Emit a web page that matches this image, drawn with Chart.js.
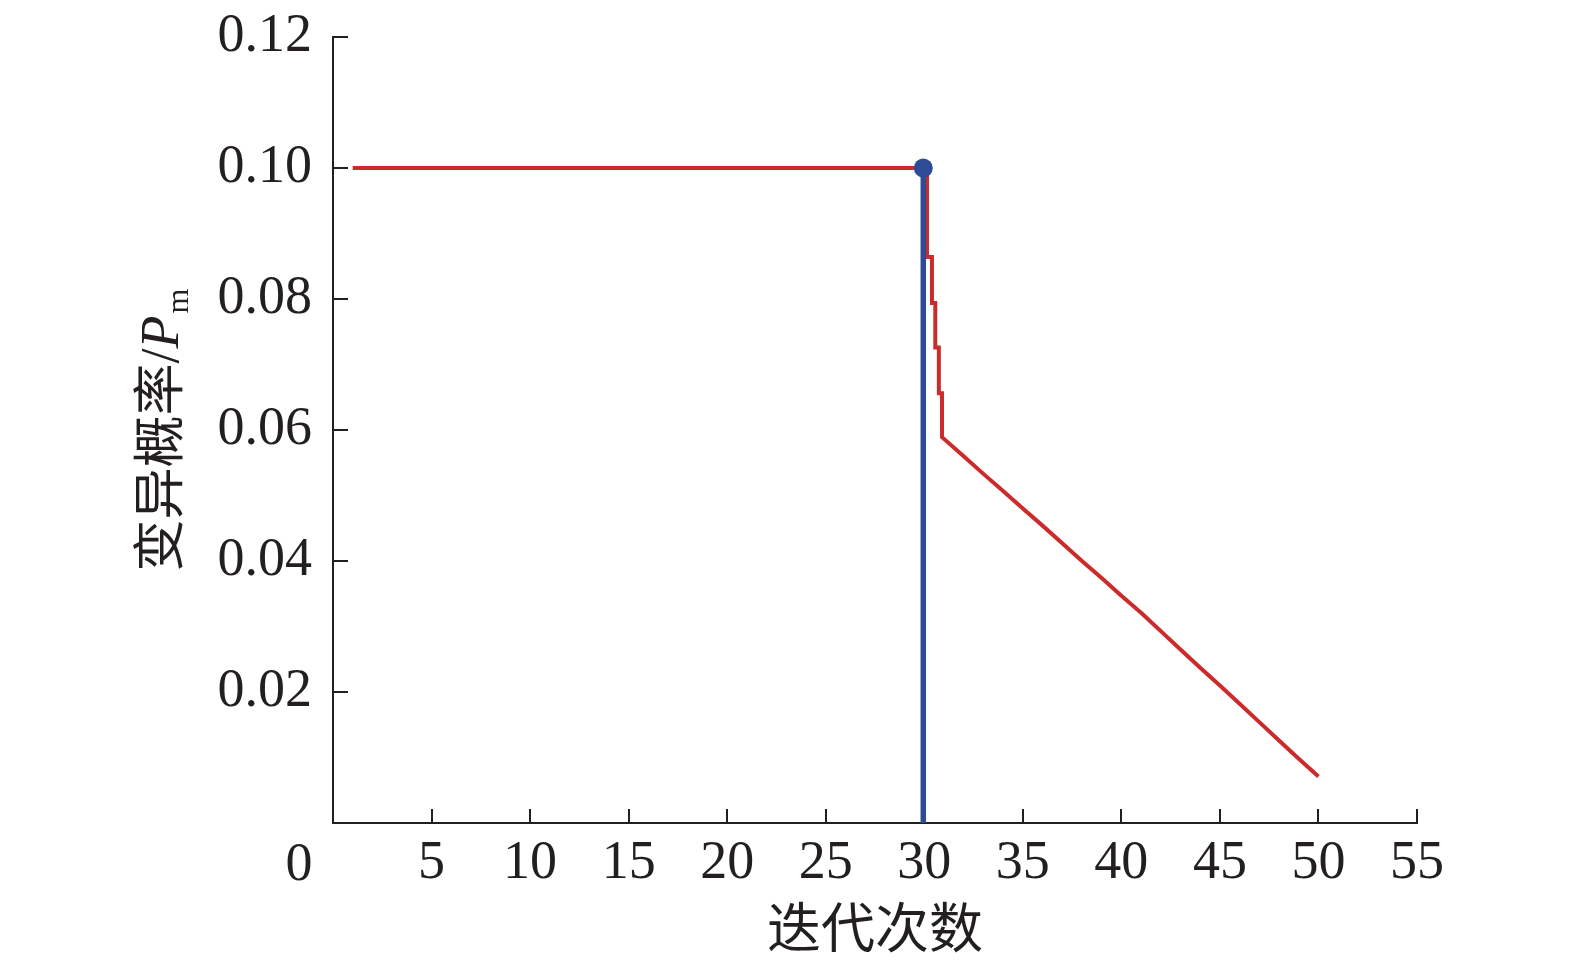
<!DOCTYPE html>
<html>
<head>
<meta charset="utf-8">
<script src="https://cdn.jsdelivr.net/npm/chart.js@4/dist/chart.umd.min.js"></script>
<style>
html,body{margin:0;padding:0;background:#fff;}
#wrap{width:1575px;height:968px;position:relative;}
</style>
</head>
<body>
<div id="wrap"><canvas id="c" width="1575" height="968"></canvas></div>
<script>
// ---- data ----
const xTickVals = [0, 5, 10, 15, 20, 25, 30, 35, 40, 45, 50, 55];
const xTickLabels = ['', '5', '10', '15', '20', '25', '30', '35', '40', '45', '50', '55'];
const yTickVals = [0, 0.02, 0.04, 0.06, 0.08, 0.10, 0.12];
const yTickLabels = ['', '0.02', '0.04', '0.06', '0.08', '0.10', '0.12'];
const cornerLabel = '0';

// red: adaptive mutation probability
const redX = [1, 30, 30.14, 30.14, 30.39, 30.39, 30.56, 30.56, 30.74, 30.74, 30.9, 30.9,
  32, 33, 34, 35, 36, 37, 38, 39, 40, 41, 41.22, 42, 43, 44, 45, 46, 47, 48, 49, 50];
const redY = [0.1, 0.1, 0.1, 0.0864, 0.0864, 0.0794, 0.0794, 0.0726, 0.0726, 0.0656, 0.0656, 0.0589,
  0.0560, 0.0533, 0.0507, 0.0480, 0.0454, 0.0427, 0.0400, 0.0374, 0.0347, 0.0321, 0.0315, 0.0293,
  0.0265, 0.0237, 0.0210, 0.0182, 0.0154, 0.0126, 0.0098, 0.0071];

// blue: vertical marker line at the switch point
const blueX = [29.95, 29.95];
const blueY = [0, 0.1];

const xTitle = '迭代次数';
const yTitleMain = '变异概率/';
const yTitleVar = 'P';
const yTitleSub = 'm';

// ---- styles ----
const INK = '#231f20';
const SERIF = '"Liberation Serif", "Times New Roman", serif';
const CJK = '"Noto Sans CJK SC", sans-serif';

const toPts = (xs, ys) => xs.map((x, i) => ({x: x, y: ys[i]}));
const noPad = s => { s.paddingTop = 0; s.paddingBottom = 0; s.paddingLeft = 0; s.paddingRight = 0; };

const decor = {
  id: 'decor',
  beforeDatasetsDraw(chart) {
    const {ctx, scales: {x, y}, chartArea: a} = chart;
    ctx.save();
    ctx.strokeStyle = INK;
    ctx.lineWidth = 2;
    xTickVals.forEach(v => {
      if (v === 0) return;
      const px = Math.round(x.getPixelForValue(v));
      ctx.beginPath(); ctx.moveTo(px, a.bottom); ctx.lineTo(px, a.bottom - 14); ctx.stroke();
    });
    yTickVals.forEach(v => {
      if (v === 0) return;
      const py = Math.round(y.getPixelForValue(v));
      ctx.beginPath(); ctx.moveTo(a.left, py); ctx.lineTo(a.left + 15, py); ctx.stroke();
    });
    ctx.restore();
  },
  afterDraw(chart) {
    const {ctx, chartArea: a} = chart;
    ctx.save();
    ctx.fillStyle = INK;
    // corner zero label
    ctx.font = '54px ' + SERIF;
    ctx.textAlign = 'center';
    ctx.textBaseline = 'alphabetic';
    ctx.fillText(cornerLabel, a.left - 34, 880);
    // y title (rotated)
    const fMain = '52px ' + CJK;
    const fSlash = '54px ' + SERIF;
    const fVar = 'italic 54px ' + SERIF;
    const fSub = '32px ' + SERIF;
    const mainTxt = yTitleMain.slice(0, -1);
    ctx.font = fMain; const w1 = ctx.measureText(mainTxt).width;
    ctx.font = fSlash; const w2 = ctx.measureText('/').width;
    ctx.font = fVar; const w3 = ctx.measureText(yTitleVar).width;
    ctx.font = fSub; const w4 = ctx.measureText(yTitleSub).width;
    const total = w1 + w2 + w3 + w4 + 2;
    ctx.translate(178, 430);
    ctx.rotate(-Math.PI / 2);
    ctx.textAlign = 'left';
    let cx = -total / 2;
    ctx.font = fMain; ctx.fillText(mainTxt, cx, 0); cx += w1;
    ctx.font = fSlash; ctx.fillText('/', cx, 0); cx += w2;
    ctx.font = fVar; ctx.fillText(yTitleVar, cx, 0); cx += w3 + 2;
    ctx.font = fSub; ctx.fillText(yTitleSub, cx, 10);
    ctx.restore();
  }
};

new Chart(document.getElementById('c'), {
  type: 'scatter',
  data: {
    datasets: [
      {
        label: 'switch',
        data: toPts(blueX, blueY),
        showLine: true,
        borderColor: '#2e4b95',
        backgroundColor: '#2e4b95',
        borderWidth: 5.5,
        pointRadius: [0, 9.5],
        pointHoverRadius: [0, 9.5],
        pointBorderWidth: 0,
        pointBackgroundColor: '#2e4b95',
        order: 0
      },
      {
        label: 'Pm',
        data: toPts(redX, redY),
        showLine: true,
        borderColor: '#cc2b2b',
        backgroundColor: '#cc2b2b',
        borderWidth: 4,
        pointRadius: 0,
        pointHoverRadius: 0,
        tension: 0,
        order: 1
      }
    ]
  },
  options: {
    responsive: false,
    animation: false,
    devicePixelRatio: 1,
    layout: {padding: {top: 37, right: 158, left: 0, bottom: 0}},
    plugins: {legend: {display: false}, tooltip: {enabled: false}},
    scales: {
      x: {
        type: 'linear',
        min: 0, max: 55,
        afterBuildTicks: s => { s.ticks = xTickVals.map(v => ({value: v})); },
        afterFit: s => { s.height = 145; noPad(s); },
        grid: {display: false, drawTicks: false},
        border: {display: true, color: INK, width: 2},
        ticks: {
          autoSkip: false, maxRotation: 0, padding: 8,
          color: INK, font: {family: SERIF, size: 54},
          callback: v => { const i = xTickVals.indexOf(v); return i >= 0 ? xTickLabels[i] : ''; }
        },
        title: {display: true, text: xTitle, color: INK, font: {family: CJK, size: 54}, padding: {top: 0, bottom: 8}}
      },
      y: {
        type: 'linear',
        min: 0, max: 0.12,
        afterBuildTicks: s => { s.ticks = yTickVals.map(v => ({value: v})); },
        afterFit: s => { s.width = 333; noPad(s); },
        grid: {display: false, drawTicks: false},
        border: {display: true, color: INK, width: 2},
        ticks: {
          autoSkip: false, padding: 21,
          color: INK, font: {family: SERIF, size: 54},
          callback: v => { const i = yTickVals.findIndex(t => Math.abs(t - v) < 1e-9); return i >= 0 ? yTickLabels[i] : ''; }
        },
        title: {display: false}
      }
    }
  },
  plugins: [decor]
});
</script>
</body>
</html>
